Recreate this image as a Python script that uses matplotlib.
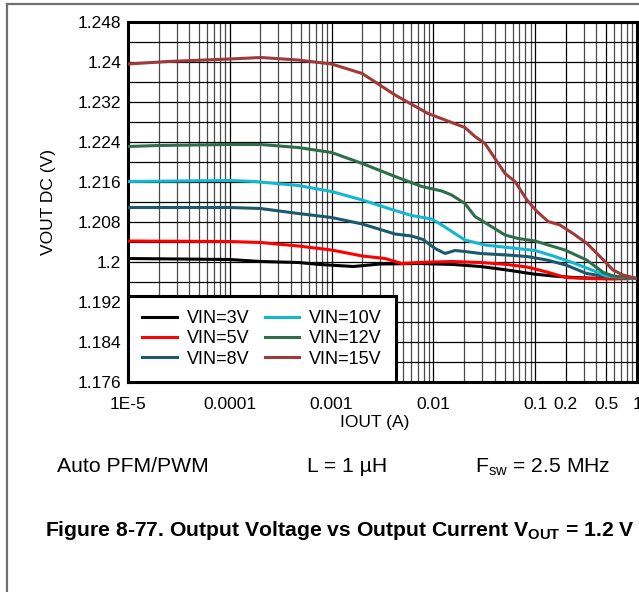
import numpy as np
import matplotlib
matplotlib.use("Agg")
import matplotlib.pyplot as plt
from matplotlib.lines import Line2D
from matplotlib.ticker import FixedLocator, NullFormatter, LogLocator

plt.rcParams['font.family'] = ['Liberation Sans', 'DejaVu Sans']

# datos
iout_3v = [1e-5, 1e-4, 2e-4, 4.7e-4, 7.7e-4, 1.63e-3, 3.0e-3, 7.4e-3, 1.57e-2, 2.9e-2, 5.3e-2, 9.6e-2, 0.15, 0.24, 0.47, 1.0]
vout_3v = [1.2007, 1.2005, 1.2001, 1.1999, 1.1995, 1.1991, 1.1996, 1.1997, 1.1995, 1.1991, 1.1984, 1.1976, 1.1972, 1.1969, 1.1967, 1.1967]

iout_5v = [1e-5, 1e-4, 2e-4, 4.7e-4, 1e-3, 2e-3, 3.35e-3, 4.9e-3, 7.1e-3, 1.5e-2, 2.9e-2, 5.3e-2, 8.3e-2, 0.13, 0.2, 0.32, 0.55, 1.0]
vout_5v = [1.2042, 1.2041, 1.2039, 1.2032, 1.2024, 1.2012, 1.2007, 1.1997, 1.1999, 1.2001, 1.1999, 1.1995, 1.1990, 1.1980, 1.1969, 1.1967, 1.1966, 1.1967]

iout_8v = [1e-5, 1e-4, 2e-4, 4.7e-4, 1e-3, 2e-3, 4.2e-3, 6.1e-3, 7.9e-3, 1.04e-2, 1.3e-2, 1.63e-2, 2.04e-2, 2.9e-2, 5.3e-2, 8.3e-2, 0.13, 0.2, 0.32, 0.5, 1.0]
vout_8v = [1.2109, 1.2109, 1.2107, 1.2097, 1.2089, 1.2076, 1.2056, 1.2052, 1.2045, 1.2027, 1.2017, 1.2023, 1.2021, 1.2017, 1.2014, 1.2011, 1.2004, 1.1994, 1.1977, 1.1971, 1.1967]

iout_10v = [1e-5, 1e-4, 1.76e-4, 4.7e-4, 1e-3, 2e-3, 4.2e-3, 6.1e-3, 9.6e-3, 1.21e-2, 2.04e-2, 3.2e-2, 5.4e-2, 0.1, 0.156, 0.246, 0.36, 0.5, 1.0]
vout_10v = [1.2161, 1.2163, 1.2161, 1.2153, 1.2141, 1.2124, 1.2103, 1.2093, 1.2086, 1.2074, 1.2044, 1.2034, 1.2029, 1.2023, 1.2011, 1.1997, 1.1984, 1.1972, 1.1967]

iout_12v = [1e-5, 2e-5, 1e-4, 2e-4, 4.7e-4, 1e-3, 2e-3, 4.2e-3, 7.7e-3, 1.21e-2, 1.51e-2, 2.04e-2, 2.56e-2, 3.2e-2, 5.05e-2, 6.8e-2, 0.1, 0.134, 0.196, 0.32, 0.467, 0.585, 1.0]
vout_12v = [1.2231, 1.2233, 1.2235, 1.2235, 1.2229, 1.2219, 1.2197, 1.2171, 1.2151, 1.2142, 1.2134, 1.2117, 1.2091, 1.2079, 1.2054, 1.2047, 1.2042, 1.2034, 1.2024, 1.2004, 1.1979, 1.1972, 1.1967]

iout_15v = [1e-5, 2.47e-5, 1e-4, 2.03e-4, 4.67e-4, 1e-3, 2e-3, 4.2e-3, 8.85e-3, 2.04e-2, 2.56e-2, 3.21e-2, 5.05e-2, 6.33e-2, 8.3e-2, 0.104, 0.134, 0.175, 0.235, 0.323, 0.433, 0.581, 0.728, 1.0]
vout_15v = [1.2396, 1.2401, 1.2406, 1.2409, 1.2404, 1.2396, 1.2377, 1.2334, 1.2297, 1.2269, 1.2251, 1.2237, 1.2177, 1.2161, 1.2124, 1.2101, 1.2081, 1.2074, 1.2057, 1.2037, 1.2011, 1.1984, 1.1974, 1.1967]

etiquetas = ['VIN=3V', 'VIN=5V', 'VIN=8V', 'VIN=10V', 'VIN=12V', 'VIN=15V']
colores = ['#000000', '#ff0000', '#1b5a6c', '#12b8cf', '#2e6e4c', '#a03a3a']

xticks = [1e-5, 1e-4, 1e-3, 1e-2, 0.1, 0.2, 0.5, 1]
xticklabels = ['1E-5', '0.0001', '0.001', '0.01', '0.1', '0.2', '0.5', '1']
yticks = [1.176, 1.184, 1.192, 1.2, 1.208, 1.216, 1.224, 1.232, 1.24, 1.248]
yticklabels = ['1.176', '1.184', '1.192', '1.2', '1.208', '1.216', '1.224', '1.232', '1.24', '1.248']

fig = plt.figure(figsize=(6.39, 5.92), dpi=100)
ax = fig.add_axes([128/639, 1-382/592, (637-128)/639, (382-22)/592])

series = [(iout_3v, vout_3v), (iout_5v, vout_5v), (iout_8v, vout_8v),
          (iout_10v, vout_10v), (iout_12v, vout_12v), (iout_15v, vout_15v)]
for (xs, ys), lab, c in zip(series, etiquetas, colores):
    ax.plot(xs, ys, color=c, lw=2.2, label=lab, zorder=3)

ax.set_xscale('log')
ax.set_xlim(1e-5, 1)
ax.set_ylim(1.176, 1.248)
ax.set_xticks(xticks)
ax.set_xticklabels(xticklabels)
ax.xaxis.set_minor_locator(LogLocator(base=10, subs=np.arange(2, 10)))
ax.xaxis.set_minor_formatter(NullFormatter())
ax.set_yticks(yticks)
ax.set_yticklabels(yticklabels)
ax.yaxis.set_minor_locator(FixedLocator(np.arange(1.180, 1.248, 0.008)))
ax.tick_params(which='both', length=0, labelsize=12.5, colors='black')
ax.tick_params(axis='x', pad=11)
ax.tick_params(axis='y', pad=5)

ax.grid(True, which='major', axis='both', color='black', lw=0.9)
ax.grid(True, which='minor', axis='y', color='black', lw=0.9)
ax.grid(True, which='minor', axis='x', color='#4a4a4a', lw=0.9)
ax.set_axisbelow(True)
for s in ax.spines.values():
    s.set_linewidth(2.2)
    s.set_color('black')

leg = ax.legend(ncol=2, loc='lower left', bbox_to_anchor=(0, 0), borderaxespad=0,
                fontsize=13, handlelength=1.9, handletextpad=0.55,
                columnspacing=0.85, labelspacing=0.18, borderpad=0.8,
                fancybox=False, framealpha=1, edgecolor='black')
leg.get_frame().set_linewidth(2.2)
leg.set_zorder(5)

fig.text(49/639, 1-202/592, 'VOUT DC (V)', rotation=90, ha='center', va='center', fontsize=12.5)
fig.text(375/639, 1-423/592, 'IOUT (A)', ha='center', va='center', fontsize=12.5)

fig.text(57/639, 1-467/592, 'Auto PFM/PWM', ha='left', va='center', fontsize=15.2)
fig.text(307/639, 1-467/592, 'L = 1 µH', ha='left', va='center', fontsize=15.2)
fig.text(475/639, 1-467/592, r'F$_{\mathregular{sw}}$ = 2.5 MHz', ha='left', va='center', fontsize=15.2)
fig.text(45/639, 1-531/592, r'Figure 8-77. Output Voltage vs Output Current V$_{\mathregular{OUT}}$ = 1.2 V',
         ha='left', va='center', fontsize=15.2, fontweight='bold')

# marco de la pagina
fig.add_artist(Line2D([7/639, 1], [1-4/592, 1-4/592], color='#707070', lw=1.6, transform=fig.transFigure))
fig.add_artist(Line2D([7/639, 7/639], [0, 1-4/592], color='#707070', lw=1.6, transform=fig.transFigure))

fig.savefig('out.png', dpi=100)
